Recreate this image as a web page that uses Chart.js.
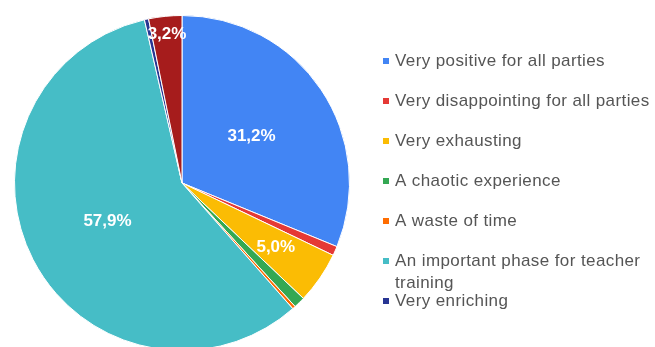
<!DOCTYPE html>
<html>
<head>
<meta charset="utf-8">
<script src="https://cdn.jsdelivr.net/npm/chart.js@4.4.1/dist/chart.umd.min.js"></script>
<style>
  html, body { margin: 0; padding: 0; background: #fff; overflow: hidden; }
  #wrap { position: relative; width: 655px; height: 351px; }
</style>
</head>
<body>
<div id="wrap"><canvas id="chart"></canvas></div>
<script>
// answers, in clockwise order from 12 o'clock
const labels = [
    'Very positive for all parties',
    'Very disappointing for all parties',
    'Very exhausting',
    'A chaotic experience',
    'A waste of time',
    'An important phase for teacher training',
    'Very enriching',
    'Other'
];
const shares = [31.2, 0.9, 5.0, 1.1, 0.3, 57.9, 0.4, 3.2];
const colors = ['#4285f4', '#e53935', '#fbbc04', '#34a853', '#ff6d01', '#46bdc6', '#283593', '#a61c1c'];
const inLegend = [true, true, true, true, true, true, true, false];

// percentage labels inside the slices
const sliceLabels = {
    id: 'sliceLabels',
    afterDatasetsDraw(chart) {
        const ctx = chart.ctx;
        const meta = chart.getDatasetMeta(0);
        ctx.save();
        ctx.font = 'bold 17px "Liberation Sans", Arial, sans-serif';
        ctx.fillStyle = '#fff';
        ctx.textAlign = 'center';
        ctx.textBaseline = 'middle';
        meta.data.forEach((arc, i) => {
            const v = shares[i];
            if (v < 3) return;
            // small slices get their label nearer the rim
            let f = 0.5;
            if (v < 4) f = 0.89;
            else if (v < 10) f = 0.68;
            const mid = (arc.startAngle + arc.endAngle) / 2;
            const x = arc.x + Math.cos(mid) * arc.outerRadius * f;
            const y = arc.y + Math.sin(mid) * arc.outerRadius * f;
            ctx.fillText(v.toFixed(1).replace('.', ',') + '%', x, y);
        });
        ctx.restore();
    }
};

// legend on the right, with wrapping of long entries
const sideLegend = {
    id: 'sideLegend',
    afterDraw(chart) {
        const ctx = chart.ctx;
        const textX = 395;
        const maxW = chart.width - textX - 2;
        ctx.save();
        ctx.font = '17px "Liberation Sans", Arial, sans-serif';
        ctx.letterSpacing = '0.4px';
        ctx.textBaseline = 'middle';
        ctx.textAlign = 'left';
        let row = 0;
        labels.forEach((name, i) => {
            if (!inLegend[i]) return;
            const y = 61 + row * 40;
            ctx.fillStyle = colors[i];
            ctx.fillRect(383, y - 3, 6, 6);
            // word wrap
            const words = name.split(' ');
            const lines = [];
            let line = '';
            words.forEach(w => {
                const test = line ? line + ' ' + w : w;
                if (ctx.measureText(test).width > maxW && line) {
                    lines.push(line);
                    line = w;
                } else {
                    line = test;
                }
            });
            lines.push(line);
            ctx.fillStyle = '#555';
            lines.forEach((l, j) => ctx.fillText(l, textX, y + j * 22));
            row++;
        });
        ctx.restore();
    }
};

const ctx = document.getElementById('chart').getContext('2d');
const chart = new Chart(ctx, {
    type: 'pie',
    data: {
        labels: labels,
        datasets: [{
            data: shares,
            backgroundColor: colors,
            borderColor: '#fff',
            borderWidth: 1
        }]
    },
    options: {
        responsive: true,
        maintainAspectRatio: false,
        animation: false,
        layout: {
            padding: { top: 15, left: 0, right: 291, bottom: 0 }
        },
        plugins: {
            legend: { display: false },
            tooltip: { enabled: false }
        }
    },
    plugins: [sliceLabels, sideLegend]
});
</script>
</body>
</html>
